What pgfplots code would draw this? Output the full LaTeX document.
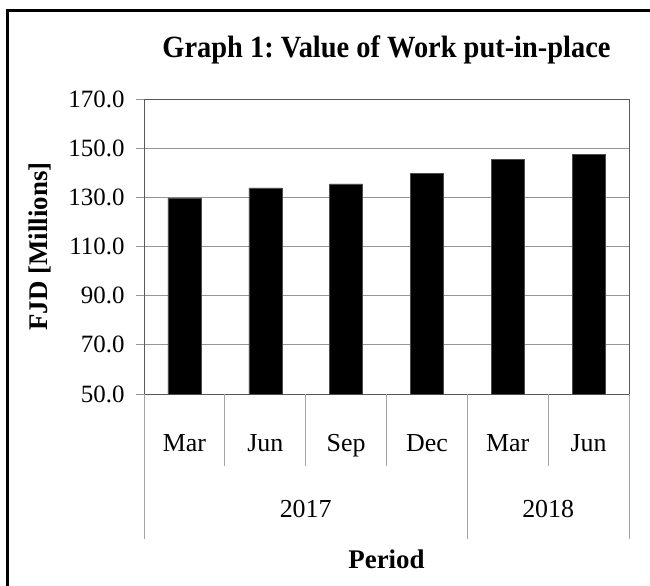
\documentclass[border=0pt]{standalone}
\usepackage{fontspec}
\setmainfont{Liberation Serif}
\newfontfamily\titlefont{Liberation Serif}[FakeStretch=0.92]
\usepackage{pgfplots}
\pgfplotsset{compat=1.18}
\definecolor{gridc}{RGB}{150,150,150}
\definecolor{sepc}{RGB}{165,165,165}
\frenchspacing
\begin{document}
\begin{tikzpicture}
\useasboundingbox (0,0) rectangle (650bp,-586bp);
\draw[line width=3bp] (7bp,-590bp) -- (7bp,-10bp) -- (655bp,-10bp);
\begin{axis}[
  at={(144bp,-394bp)}, anchor=south west,
  scale only axis, width=485bp, height=295bp,
  ymin=50, ymax=170, ytick={50,70,...,170},
  xmin=-0.5, xmax=5.5,
  xtick={0,1,2,3,4,5},
  xticklabels={Mar,Jun,Sep,Dec,Mar,Jun},
  x tick style={draw=none},
  xticklabel style={anchor=base, yshift=-49bp, font=\fontsize{26}{30}\selectfont},
  ytick pos=left, tick align=outside, major tick length=8bp,
  y tick style={gridc, line width=0.8bp},
  yticklabel style={font=\fontsize{25}{30}\selectfont, anchor=east, xshift=-8bp},
  /pgf/number format/.cd, fixed, fixed zerofill, precision=1, assume math mode=true,
  /pgfplots/.cd,
  ymajorgrids, grid style={gridc, line width=0.8bp},
  axis line style={gray!70!black, line width=0.8bp},
  title={\titlefont\bfseries Graph 1: Value of Work put-in-place},
  title style={at={(0.5,1)}, anchor=base, yshift=36bp, font=\fontsize{31}{36}\selectfont},
  xlabel={\bfseries Period},
  every axis x label/.style={at={(rel axis cs:0.5,0)}, anchor=base, yshift=-174bp, font=\fontsize{27}{32}\selectfont},
  ylabel={\bfseries FJD [Millions]},
  every axis y label/.style={at={(rel axis cs:0,0.5)}, xshift=-104bp, rotate=90, anchor=center, font=\fontsize{27}{32}\selectfont},
  clip=false,
]
\addplot[ybar, bar width=33bp, fill=black, draw=gray!60!black, line width=0.5bp]
  coordinates {(0,129.8) (1,133.8) (2,135.5) (3,139.6) (4,145.3) (5,147.4)};
% category separators
\pgfplotsinvokeforeach{0.5,1.5,2.5,4.5}{
  \draw[sepc, line width=0.8bp] (axis cs:#1,50) -- ([yshift=-72bp]axis cs:#1,50);
}
\pgfplotsinvokeforeach{-0.5,3.5,5.5}{
  \draw[sepc, line width=0.8bp] (axis cs:#1,50) -- ([yshift=-145bp]axis cs:#1,50);
}
\node[anchor=base, font=\fontsize{26}{30}\selectfont] at ([yshift=-123bp]axis cs:1.5,50) {2017};
\node[anchor=base, font=\fontsize{26}{30}\selectfont] at ([yshift=-123bp]axis cs:4.5,50) {2018};
\end{axis}
\end{tikzpicture}
\end{document}
